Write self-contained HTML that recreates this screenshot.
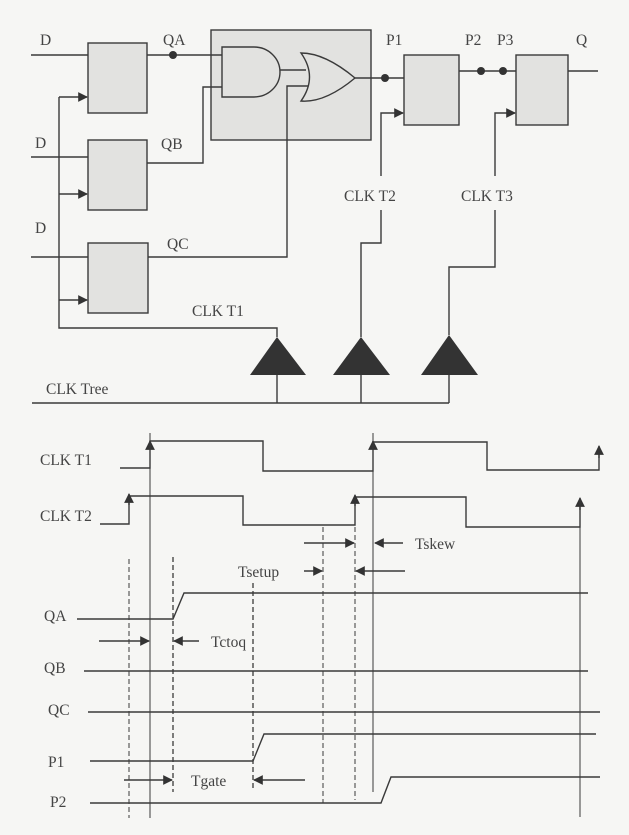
<!DOCTYPE html>
<html><head><meta charset="utf-8"><style>
html,body{margin:0;padding:0;background:#f6f6f4;}
svg{display:block;}
text{font-family:"Liberation Serif",serif;font-size:15.5px;fill:#444;}
</style></head><body>
<svg width="629" height="835" viewBox="0 0 629 835" xmlns="http://www.w3.org/2000/svg">
<defs>
<marker id="ah" viewBox="0 0 10 10" refX="9" refY="5" markerWidth="7" markerHeight="7" orient="auto-start-reverse"><path d="M0,0L10,5L0,10z" fill="#333"/></marker>
</defs>
<g stroke="#3a3a3a" stroke-width="1.4" fill="none">
<rect x="211" y="30" width="160" height="110" fill="#e2e2e0"/>
<rect x="88" y="43" width="59" height="70" fill="#e2e2e0"/>
<rect x="88" y="140" width="59" height="70" fill="#e2e2e0"/>
<rect x="88" y="243" width="60" height="70" fill="#e2e2e0"/>
<rect x="404" y="55" width="55" height="70" fill="#e2e2e0"/>
<rect x="516" y="55" width="52" height="70" fill="#e2e2e0"/>
<path d="M222,47 H254 A26,25 0 0 1 254,97 H222 Z" fill="#e2e2e0"/>
<path d="M301,53 Q325,53 355,78 Q325,103 301,101 Q318,77 301,53 Z" fill="#e2e2e0"/>
<path d="M31,55 H88"/><path d="M147,55 H222"/>
<path d="M31,157 H88"/><path d="M147,163 H203 V87 H222"/>
<path d="M31,257 H88"/><path d="M148,257 H287 V86 H308"/>
<path d="M280,70 H306"/>
<path d="M355,78 H404"/>
<path d="M459,71 H516"/><path d="M568,71 H598"/>
<path d="M59,97 V328 H277 V337"/>
<path d="M59,97 H87" marker-end="url(#ah)"/>
<path d="M59,194 H87" marker-end="url(#ah)"/>
<path d="M59,300 H87" marker-end="url(#ah)"/>
<path d="M381,176 V113 H403" marker-end="url(#ah)"/>
<path d="M381,210 V243 H361 V337"/>
<path d="M495,176 V113 H515" marker-end="url(#ah)"/>
<path d="M495,210 V267 H449 V335"/>
<path d="M32,403 H449"/>
<path d="M277,375 V403"/><path d="M361,375 V403"/><path d="M449,375 V403"/>
</g>
<g fill="#333">
<circle cx="173" cy="55" r="4"/><circle cx="385" cy="78" r="4"/>
<circle cx="481" cy="71" r="4"/><circle cx="503" cy="71" r="4"/>
<path d="M277,337 L306,375 L250,375 Z"/>
<path d="M361,337 L390,375 L333,375 Z"/>
<path d="M449,335 L478,375 L421,375 Z"/>
</g>
<g>
<text x="40" y="45">D</text><text x="35" y="148">D</text><text x="35" y="233">D</text>
<text x="163" y="45">QA</text><text x="161" y="149">QB</text><text x="167" y="249">QC</text>
<text x="386" y="45">P1</text><text x="465" y="45">P2</text><text x="497" y="45">P3</text><text x="576" y="45">Q</text>
<text x="344" y="201">CLK T2</text><text x="461" y="201">CLK T3</text>
<text x="192" y="316">CLK T1</text><text x="46" y="394">CLK Tree</text>
</g>
<g stroke="#3a3a3a" stroke-width="1.4" fill="none">
<path d="M120,468 H150 V441 H263 V471 H373 V442 H487 V470 H599 V448"/>
<path d="M150,450 V441" marker-end="url(#ah)"/>
<path d="M373,450 V441" marker-end="url(#ah)"/>
<path d="M599,458 V446" marker-end="url(#ah)"/>
<path d="M100,524 H129 V496 H243 V525 H355 V497 H466 V527 H580 V502"/>
<path d="M129,505 V494" marker-end="url(#ah)"/>
<path d="M355,506 V495" marker-end="url(#ah)"/>
<path d="M580,510 V498" marker-end="url(#ah)"/>
<path d="M150,433 V818" stroke-width="1"/>
<path d="M373,433 V792" stroke-width="1"/>
<path d="M580,500 V817" stroke-width="1"/>
<g stroke-dasharray="5,3" stroke-width="1">
<path d="M129,559 V818"/><path d="M173,557 V792" stroke-width="1.3"/><path d="M253,583 V788" stroke-width="1.3"/>
<path d="M323,527 V803"/><path d="M355,527 V800"/>
</g>
<path d="M77,619 H173 L184,593 H588"/>
<path d="M84,671 H588"/>
<path d="M88,712 H600"/>
<path d="M90,761 H253 L264,734 H596"/>
<path d="M90,803 H381 L391,777 H600"/>
<path d="M304,543 H354" marker-end="url(#ah)"/>
<path d="M403,543 H375" marker-end="url(#ah)"/>
<path d="M304,571 H322" marker-end="url(#ah)"/>
<path d="M405,571 H356" marker-end="url(#ah)"/>
<path d="M99,641 H149" marker-end="url(#ah)"/>
<path d="M199,641 H174" marker-end="url(#ah)"/>
<path d="M124,780 H172" marker-end="url(#ah)"/>
<path d="M305,780 H254" marker-end="url(#ah)"/>
</g>
<g>
<text x="40" y="465">CLK T1</text><text x="40" y="521">CLK T2</text>
<text x="415" y="549">Tskew</text><text x="238" y="577">Tsetup</text>
<text x="211" y="647">Tctoq</text><text x="191" y="786">Tgate</text>
<text x="44" y="621">QA</text><text x="44" y="673">QB</text><text x="48" y="715">QC</text>
<text x="48" y="767">P1</text><text x="50" y="807">P2</text>
</g>
</svg>
</body></html>
